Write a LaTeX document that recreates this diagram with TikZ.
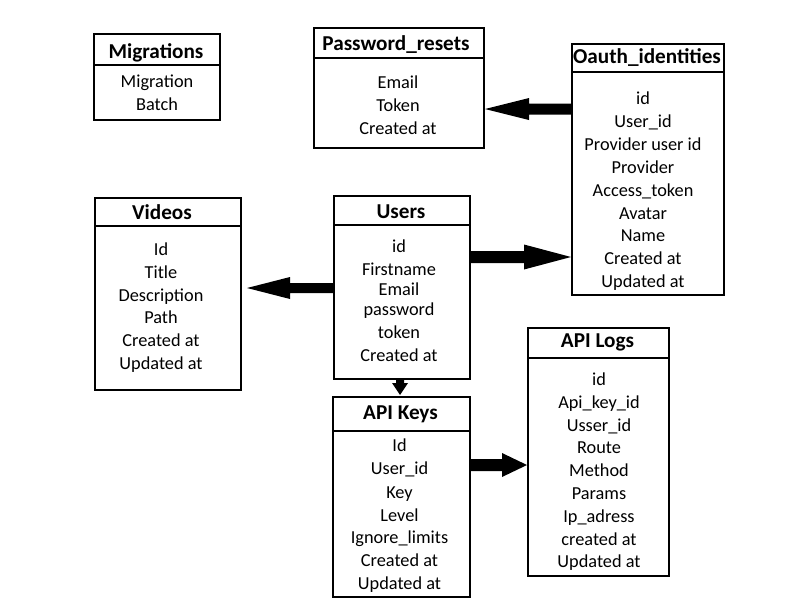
\documentclass[tikz,border=0pt]{standalone}
\usepackage{fontspec}
\setmainfont{Carlito}
\usetikzlibrary{calc}
\newcommand\fatarrow[5]{% #1 tail, #2 tip, #3 head length, #4 shaft half, #5 head half
  \coordinate (#1b) at ($(#2)!#3pt!(#1)$);
  \fill[arrowfill] ($(#1)!#4pt!90:(#2)$) -- ($(#1b)!#4pt!-90:(#1)$) -- ($(#1b)!#5pt!-90:(#1)$)
    -- (#2) -- ($(#1b)!#5pt!90:(#1)$) -- ($(#1b)!#4pt!90:(#1)$) -- ($(#1)!#4pt!-90:(#2)$) -- cycle;}
\begin{document}
\begin{tikzpicture}[x=1pt,y=-1pt,
  tblbox/.style={draw=black, line width=2pt, rectangle, inner sep=0pt, anchor=north west},
  hdr/.style={font=\fontsize{21.2}{25}\selectfont\bfseries, anchor=base, inner sep=0pt},
  row/.style={font=\fontsize{18.3}{22}\selectfont, anchor=base, inner sep=0pt},
  arrowfill/.style={fill=black}]
\useasboundingbox (0,0) rectangle (800,600);

% Migrations
\node[tblbox, minimum width=126pt, minimum height=31pt] (mig-h) at (93,33) {};
\node[tblbox, minimum width=126pt, minimum height=55pt] (mig) at (93,64) {};
\node[hdr] (mig-t) at (156,58) {Migrations};
\foreach \t/\y [count=\i] in {Migration/81, Batch/104}
  \node[row] (mig-\i) at (157,\y+6) {\t};

% Password_resets
\node[tblbox, minimum width=170pt, minimum height=30pt] (pr-h) at (313,27) {};
\node[tblbox, minimum width=170pt, minimum height=90pt] (pr) at (313,57) {};
\node[hdr] (pr-t) at (396,50) {Password\_resets};
\foreach \t/\y [count=\i] in {Email/82, Token/105, Created at/128}
  \node[row] (pr-\i) at (398,\y+6) {\t};

% Oauth_identities
\node[tblbox, minimum width=152pt, minimum height=28pt] (oauth-h) at (571,43) {};
\node[tblbox, minimum width=152pt, minimum height=223pt] (oauth) at (571,71) {};
\node[hdr] (oauth-t) at (647,63) {Oauth\_identities};
\foreach \t/\y [count=\i] in {id/98, User\_id/121, Provider user id/144, Provider/167,
    Access\_token/190, Avatar/213, Name/235, Created at/258, Updated at/281}
  \node[row] (oauth-\i) at (643,\y+6) {\t};

% Videos
\node[tblbox, minimum width=146pt, minimum height=28pt] (videos-h) at (94,197) {};
\node[tblbox, minimum width=146pt, minimum height=164pt] (videos) at (94,225) {};
\node[hdr] (videos-t) at (162,219) {Videos};
\foreach \t/\y [count=\i] in {Id/249, Title/272, Description/295, Path/317, Created at/340, Updated at/363}
  \node[row] (videos-\i) at (161,\y+6) {\t};

% Users
\node[tblbox, minimum width=136pt, minimum height=29pt] (users-h) at (333,195) {};
\node[tblbox, minimum width=136pt, minimum height=154pt] (users) at (333,224) {};
\node[hdr] (users-t) at (401,218) {Users};
\foreach \t/\y [count=\i] in {id/246, Firstname/269, Email/289, password/309, token/332, Created at/355}
  \node[row] (users-\i) at (399,\y+6) {\t};

% API Keys
\node[tblbox, minimum width=137pt, minimum height=34pt] (keys-h) at (332,396) {};
\node[tblbox, minimum width=137pt, minimum height=166pt] (keys) at (332,430) {};
\node[hdr] (keys-t) at (400.5,419) {API Keys};
\foreach \t/\y [count=\i] in {Id/445, User\_id/468, Key/492, Level/515, Ignore\_limits/537, Created at/560, Updated at/583}
  \node[row] (keys-\i) at (399.5,\y+6) {\t};

% API Logs
\node[tblbox, minimum width=141pt, minimum height=30pt] (logs-h) at (527,327) {};
\node[tblbox, minimum width=141pt, minimum height=218pt] (logs) at (527,357) {};
\node[hdr] (logs-t) at (597.5,347) {API Logs};
\foreach \t/\y [count=\i] in {id/379, Api\_key\_id/402, Usser\_id/425, Route/447, Method/470,
    Params/493, Ip\_adress/516, created at/539, Updated at/561}
  \node[row] (logs-\i) at (599,\y+6) {\t};

% Connectors
\coordinate (h1) at (0,109);
\coordinate (a1s) at (oauth.west |- h1);
\coordinate (a1e) at (pr.east |- h1);
\fatarrow{a1s}{a1e}{44}{5.5}{11}

\coordinate (h2) at (0,257);
\coordinate (a2s) at (users.east |- h2);
\coordinate (a2e) at (oauth.west |- h2);
\fatarrow{a2s}{a2e}{47}{6}{12.5}

\coordinate (h3) at (0,288);
\coordinate (a3s) at (users.west |- h3);
\coordinate (a3e) at ($(videos.east |- h3)+(5,0)$);
\fatarrow{a3s}{a3e}{43}{5}{11}

\coordinate (a4s) at ($(users.south)+(-2,0)$);
\coordinate (a4e) at ($(keys-h.north)+(-1.5,-1)$);
\fatarrow{a4s}{a4e}{12}{4}{8}

\coordinate (h5) at (0,465);
\coordinate (a5s) at (keys.east |- h5);
\coordinate (a5e) at (logs.west |- h5);
\fatarrow{a5s}{a5e}{25}{6}{12}
\end{tikzpicture}
\end{document}
